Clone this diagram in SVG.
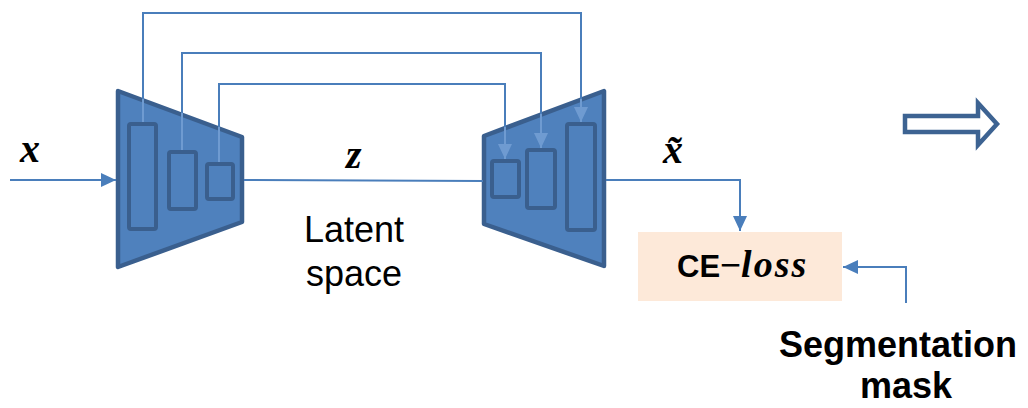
<svg xmlns="http://www.w3.org/2000/svg" width="1028" height="408" viewBox="0 0 1028 408">
<defs>
<style>
.conn{fill:none;stroke:#4a7ebb;stroke-width:2}
.inner{fill:none;stroke:#6f9bd1;stroke-width:2}
.trap{fill:#4f81bd;stroke:#3a5f8e;stroke-width:4.5;stroke-linejoin:round}
.blk{fill:none;stroke:#3a5f8e;stroke-width:4;rx:2}
.math{font-family:"Liberation Serif","Times New Roman",serif;font-style:italic;font-weight:bold;fill:#000}
.sans{font-family:"Liberation Sans",Arial,sans-serif;fill:#000}
</style>
<marker id="ah" markerUnits="userSpaceOnUse" markerWidth="16" markerHeight="15" refX="15" refY="7" orient="auto">
<path d="M0,0 L15,7 L0,14 z" fill="#4a7ebb"/>
</marker>
<marker id="ahl" markerUnits="userSpaceOnUse" markerWidth="16" markerHeight="15" refX="15" refY="7" orient="auto">
<path d="M0,0 L15,7 L0,14 z" fill="#6f9bd1"/>
</marker>
</defs>
<rect width="1028" height="408" fill="#fff"/>

<g id="encoder">
<polygon class="trap" points="118,91 242,137 242,222 118,267"/>
<rect class="blk" x="129" y="124" width="27" height="105"/>
<rect class="blk" x="169" y="152" width="27" height="57"/>
<rect class="blk" x="207" y="164" width="26" height="35"/>
</g>

<g id="decoder">
<polygon class="trap" points="484,136 604,91 604,266 484,224"/>
<rect class="blk" x="492" y="161" width="27" height="36"/>
<rect class="blk" x="527" y="150" width="28" height="58"/>
<rect class="blk" x="567" y="124" width="28" height="106"/>
</g>

<g id="ce-loss">
<rect x="638" y="232" width="204" height="69" fill="#fde9d9"/>
<text x="677" y="277"><tspan class="sans" font-weight="bold" font-size="31">CE</tspan><tspan class="sans" font-size="36">−</tspan><tspan class="math" font-size="38" letter-spacing="2">loss</tspan></text>
</g>

<g id="block-arrow">
<polygon points="905,116 978,116 978,103 997,124 978,145 978,132 905,132" fill="none" stroke="#3d6392" stroke-width="4.5" stroke-linejoin="miter"/>
</g>

<g id="connectors">
<path class="conn" d="M10,180 H116" marker-end="url(#ah)"/>
<path class="conn" d="M244,180 L483,181"/>
<path class="conn" d="M606,180 H740 V231" marker-end="url(#ah)"/>
<path class="conn" d="M906,303 V267 H843" marker-end="url(#ah)"/>
<path class="conn" d="M143,100 V13 H581 V100"/>
<path class="conn" d="M182,114 V53 H541 V115"/>
<path class="conn" d="M219,128 V84 H505 V128"/>
<path class="inner" d="M143,99 V122"/>
<path class="inner" d="M182,113 V150"/>
<path class="inner" d="M219,127 V162"/>
<path class="inner" d="M581,99 V122" marker-end="url(#ahl)"/>
<path class="inner" d="M541,114 V148" marker-end="url(#ahl)"/>
<path class="inner" d="M505,127 V159" marker-end="url(#ahl)"/>
</g>

<g id="labels">
<text class="math" x="20" y="162" font-size="40">x</text>
<text class="math" x="346" y="168" font-size="40">z</text>
<text class="math" x="663" y="163" font-size="40">x̃</text>
<text class="sans" x="354" y="242" font-size="36" text-anchor="middle">Latent</text>
<text class="sans" x="354" y="286" font-size="36" text-anchor="middle">space</text>
<text class="sans" x="779" y="357" font-size="36" font-weight="bold">Segmentation</text>
<text class="sans" x="860" y="398" font-size="36" font-weight="bold">mask</text>
</g>
</svg>
